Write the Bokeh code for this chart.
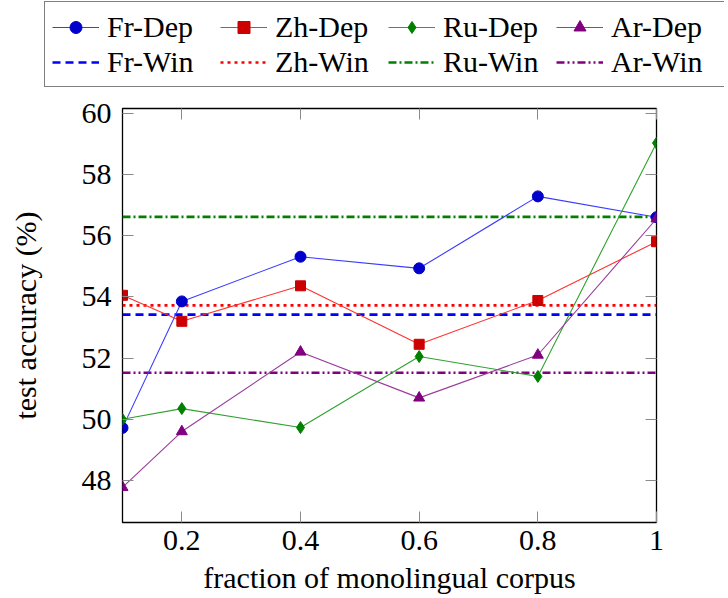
from bokeh.plotting import figure
from bokeh.layouts import column
from bokeh.models import Range1d, LinearAxis, FixedTicker, Legend, LegendItem, NumeralTickFormatter
from bokeh.embed import file_html
from bokeh.resources import INLINE

# ---------------- data ----------------
fractions = [0.1, 0.2, 0.4, 0.6, 0.8, 1.0]
fr_dep = [49.72, 53.85, 55.31, 54.93, 57.28, 56.60]
zh_dep = [54.05, 53.20, 54.36, 52.45, 53.88, 55.80]
ru_dep = [50.00, 50.35, 49.73, 52.05, 51.40, 59.02]
ar_dep = [47.78, 49.60, 52.20, 50.70, 52.10, 56.55]
fr_win = 53.42
zh_win = 53.72
ru_win = 56.61
ar_win = 51.52
x_ticks = [0.2, 0.4, 0.6, 0.8, 1.0]
y_ticks = [48, 50, 52, 54, 56, 58, 60]

FONT = "Liberation Serif"
FS = "30px"
TICK_COLOR = "#8a8a8a"
W = 724
LEG_H = 92
MAIN_H = 505

dep_specs = [
    ("Fr-Dep", fr_dep, "#3b3bff", "#0000cc", "circle", 11),
    ("Zh-Dep", zh_dep, "#ff3030", "#cc0000", "square", 10),
    ("Ru-Dep", ru_dep, "#30a030", "#008000", "diamond", 12),
    ("Ar-Dep", ar_dep, "#9a3a9a", "#800080", "triangle", 11),
]
win_specs = [
    ("Fr-Win", fr_win, "#0000ff", "8 5"),
    ("Zh-Win", zh_win, "#ff0000", "3 4"),
    ("Ru-Win", ru_win, "#008000", "8 3 2 3"),
    ("Ar-Win", ar_win, "#800080", "8 3 2 3 2 3"),
]


def add_series(fig):
    win_items = []
    for name, val, col, dash in win_specs:
        r = fig.line(x=[fractions[0], fractions[-1]], y=[val, val], line_color=col,
                     line_width=2.6, line_dash=dash)
        win_items.append(LegendItem(label=name, renderers=[r]))
    dep_items = []
    for name, ys, lcol, mcol, marker, size in dep_specs:
        rl = fig.line(x=fractions, y=ys, line_color=lcol, line_width=1.1)
        rm = fig.scatter(x=fractions, y=ys, marker=marker, size=size, fill_color=mcol,
                         line_color=mcol, line_width=1)
        dep_items.append(LegendItem(label=name, renderers=[rl, rm]))
    return dep_items + win_items


# ---------------- main plot ----------------
p = figure(width=W, height=MAIN_H, output_backend="svg", toolbar_location=None,
           x_range=Range1d(0.1, 1.0), y_range=Range1d(46.63, 60.15),
           min_border_left=122, min_border_right=68, min_border_top=16,
           min_border_bottom=MAIN_H - 16 - 414)
p.xgrid.visible = False
p.ygrid.visible = False
p.outline_line_color = "black"
p.outline_line_width = 1.3
p.background_fill_color = "white"
p.border_fill_color = "white"

bottom_axis = p.below[0]
left_axis = p.left[0]
top_axis = LinearAxis()
right_axis = LinearAxis()
p.add_layout(top_axis, "above")
p.add_layout(right_axis, "right")

for ax in [bottom_axis, top_axis]:
    ax.ticker = FixedTicker(ticks=x_ticks)
for ax in [left_axis, right_axis]:
    ax.ticker = FixedTicker(ticks=y_ticks)

for ax in [bottom_axis, left_axis, top_axis, right_axis]:
    ax.axis_line_color = None
    ax.major_tick_in = 11
    ax.major_tick_out = 0
    ax.major_tick_line_color = TICK_COLOR
    ax.major_tick_line_width = 1
    ax.minor_tick_line_color = None
    ax.major_label_text_font = FONT
    ax.major_label_text_font_size = FS
    ax.major_label_text_color = "black"

for ax in [top_axis, right_axis]:
    ax.major_label_text_color = None
    ax.major_label_text_font_size = "1px"
    ax.major_label_standoff = 0

bottom_axis.formatter = NumeralTickFormatter(format="0.[0]")
bottom_axis.major_label_standoff = 8
bottom_axis.axis_label = "fraction of monolingual corpus"
bottom_axis.axis_label_standoff = 8
left_axis.major_label_standoff = 11
left_axis.axis_label = "test accuracy (%)"
left_axis.axis_label_standoff = 37
for ax in [bottom_axis, left_axis]:
    ax.axis_label_text_font = FONT
    ax.axis_label_text_font_size = FS
    ax.axis_label_text_font_style = "normal"
    ax.axis_label_text_color = "black"

add_series(p)

# ---------------- legend strip ----------------
lg = figure(width=W, height=LEG_H, output_backend="svg", toolbar_location=None,
            x_range=Range1d(0.1, 1.0), y_range=Range1d(0, 1),
            min_border=0, x_axis_type=None, y_axis_type=None)
lg.frame_align = False
lg.xgrid.visible = False
lg.ygrid.visible = False
lg.outline_line_color = None
lg.background_fill_color = "white"
lg.border_fill_color = "white"
items = add_series(lg)  # data lies outside this strip's range; used only for legend glyphs

legend = Legend(items=items, location=(44, 5),
                orientation="horizontal", ncols=4,
                label_text_font=FONT, label_text_font_size=FS, label_text_color="black",
                glyph_width=47, glyph_height=30, label_standoff=8, label_width=113,
                label_height=35, spacing=0, padding=7, margin=0,
                border_line_color="black", border_line_width=1.3,
                background_fill_color="white", background_fill_alpha=1.0)
lg.add_layout(legend, "center")

layout = column(lg, p, spacing=0)
open("out.html", "w").write(file_html(layout, INLINE))
